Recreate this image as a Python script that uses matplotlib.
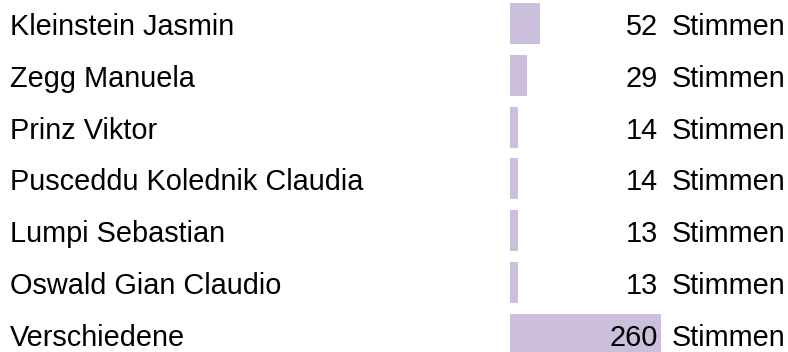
import matplotlib.pyplot as plt
from matplotlib.transforms import blended_transform_factory

names = ["Kleinstein Jasmin", "Zegg Manuela", "Prinz Viktor",
         "Pusceddu Kolednik Claudia", "Lumpi Sebastian",
         "Oswald Gian Claudio", "Verschiedene"]
votes = [52, 29, 14, 14, 13, 13, 260]
unit = "Stimmen"

plt.rcParams['font.family'] = ['Liberation Sans', 'DejaVu Sans']

W, H = 788, 352
fig = plt.figure(figsize=(W / 100, H / 100), dpi=100)
ax = fig.add_axes([0, 0, 1, 1])
ax.axis('off')

# pixel layout: bar start at x=510, 260 votes -> 151 px
bar_x0 = 510
scale = 151 / 260
ax.set_xlim(-bar_x0 / scale, (W - bar_x0) / scale)
row0, step = 23.5, 51.8
ax.set_ylim((H - row0) / step, -row0 / step)

y = range(len(names))
ax.barh(y, votes, height=41 / step, color='#cbbfdc')

tr = blended_transform_factory(ax.transAxes, ax.transData)
fs = 20.8
for i, (n, v) in enumerate(zip(names, votes)):
    yb = i + 11.5 / step
    ax.text(10 / W, yb, n, transform=tr, fontsize=fs, va='baseline', ha='left', color='black')
    ax.text(658 / W, yb, str(v), transform=tr, fontsize=fs, va='baseline', ha='right', color='black')
    ax.text(672 / W, yb, unit, transform=tr, fontsize=fs, va='baseline', ha='left', color='black')

fig.savefig('out.png', dpi=100)
